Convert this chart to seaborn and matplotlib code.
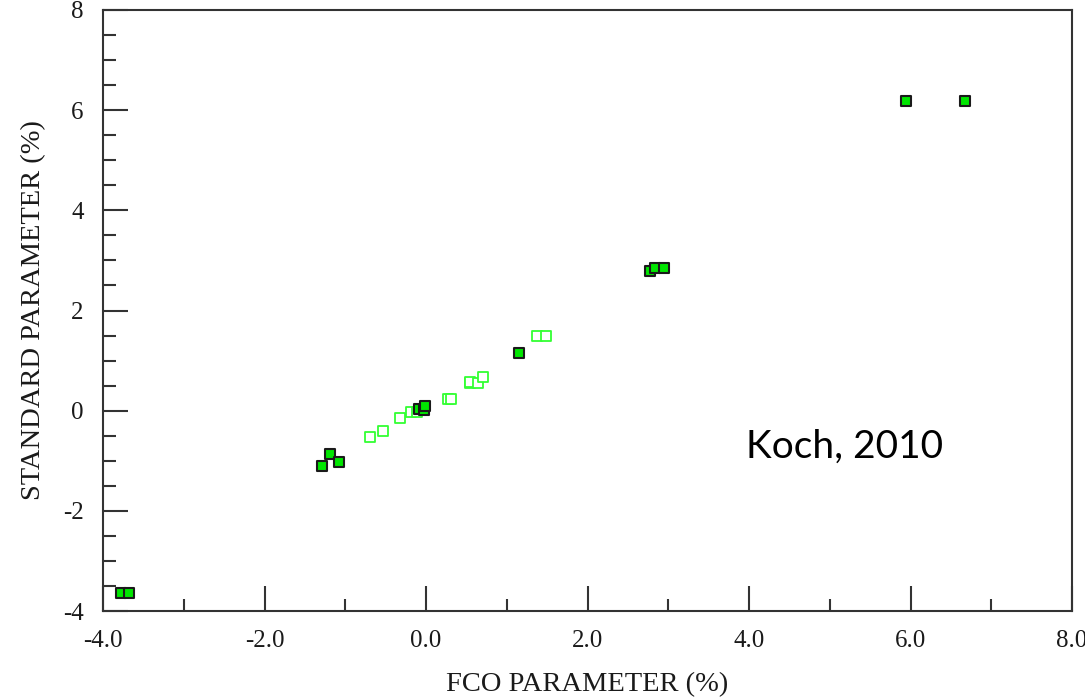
import matplotlib
matplotlib.use("Agg")
import matplotlib.pyplot as plt
from matplotlib.ticker import MultipleLocator, FixedLocator, FixedFormatter
import seaborn as sns
import pandas as pd

# Filled (dark-edged) squares
filled_x = [-3.78, -3.68, -1.29, -1.19, -1.08, -0.09, -0.03, -0.01, 1.15, 2.78, 2.84, 2.95, 5.95, 6.67]
filled_y = [-3.64, -3.64, -1.10, -0.87, -1.03, 0.03, 0.01, 0.09, 1.16, 2.78, 2.84, 2.84, 6.18, 6.18]
# Hollow (light green) squares
hollow_x = [-0.69, -0.53, -0.32, -0.19, -0.11, 0.27, 0.31, 0.54, 0.55, 0.65, 0.71, 1.38, 1.49]
hollow_y = [-0.52, -0.40, -0.14, -0.03, -0.03, 0.23, 0.23, 0.56, 0.57, 0.56, 0.68, 1.49, 1.49]

x_ticks = [-4.0, -2.0, 0.0, 2.0, 4.0, 6.0, 8.0]
x_tick_labels = ["-4.0", "-2.0", "0.0", "2.0", "4.0", "6.0", "8.0"]
y_ticks = [-4, -2, 0, 2, 4, 6, 8]
y_tick_labels = ["-4", "-2", "0", "2", "4", "6", "8"]

df_f = pd.DataFrame({"x": filled_x, "y": filled_y})
df_h = pd.DataFrame({"x": hollow_x, "y": hollow_y})

sns.set_style("white")
plt.rcParams["font.family"] = ["Liberation Serif", "DejaVu Serif"]

fig = plt.figure(figsize=(10.85, 6.97), dpi=100)
ax = fig.add_axes([103 / 1085, 1 - 611 / 697, (1072 - 103) / 1085, (611 - 10) / 697])

sns.scatterplot(data=df_h, x="x", y="y", ax=ax, marker="s", s=55,
                facecolor="white", edgecolor="#33ff33", linewidth=1.3, zorder=3)
sns.scatterplot(data=df_f, x="x", y="y", ax=ax, marker="s", s=55,
                color="#00e600", edgecolor="#1a1a1a", linewidth=1.5, zorder=4)

ax.set_xlim(-4, 8)
ax.set_ylim(-4, 8)
ax.xaxis.set_major_locator(FixedLocator(x_ticks))
ax.xaxis.set_major_formatter(FixedFormatter(x_tick_labels))
ax.yaxis.set_major_locator(FixedLocator(y_ticks))
ax.yaxis.set_major_formatter(FixedFormatter(y_tick_labels))
ax.xaxis.set_minor_locator(MultipleLocator(1.0))
ax.yaxis.set_minor_locator(MultipleLocator(0.5))

ax.tick_params(axis="both", which="major", direction="in", length=18, width=1.5,
               color="#333333", labelsize=18, pad=14, labelcolor="#1a1a1a")
ax.tick_params(axis="both", which="minor", direction="in", length=9, width=1.5,
               color="#333333")
ax.tick_params(axis="x", which="both", top=False, bottom=True)
ax.tick_params(axis="y", which="both", left=True, right=False)

for s in ax.spines.values():
    s.set_visible(True)
    s.set_color("#333333")
    s.set_linewidth(1.5)

ax.set_xlabel("FCO PARAMETER (%)", fontsize=20.5, color="#1a1a1a", labelpad=14)
ax.set_ylabel("STANDARD PARAMETER (%)", fontsize=20.5, color="#1a1a1a", labelpad=12)

ax.text(845, 697 - 447, "Koch, 2010", transform=None, fontsize=28,
        family=["Lato", "DejaVu Sans"], ha="center", va="center", color="black")

fig.savefig("out.png", dpi=100, facecolor="white")
